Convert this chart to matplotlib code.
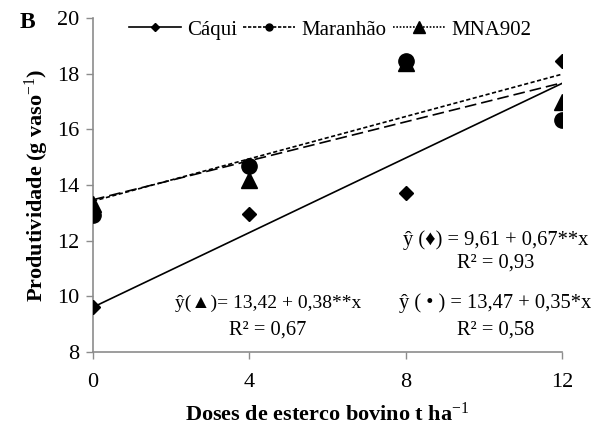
import matplotlib
matplotlib.use("Agg")
import matplotlib.pyplot as plt
from matplotlib.lines import Line2D
import numpy as np

plt.rcParams['font.family'] = ['Liberation Serif', 'DejaVu Sans']
plt.rcParams['mathtext.fontset'] = 'custom'
plt.rcParams['mathtext.rm'] = 'Liberation Serif'
plt.rcParams['mathtext.bf'] = 'Liberation Serif:bold'
plt.rcParams['mathtext.it'] = 'Liberation Serif:italic'

doses = [0, 4, 8, 12]
caqui = [9.62, 12.95, 13.7, 18.45]
maranhao = [12.93, 14.68, 18.45, 16.32]
mna902 = [13.3, 14.18, 18.4, 16.97]

# regression coefficients (intercept, slope)
fit_caqui = (9.61, 0.67)
fit_maranhao = (13.47, 0.35)
fit_mna902 = (13.42, 0.38)

xticks = [0, 4, 8, 12]
yticks = [8, 10, 12, 14, 16, 18, 20]

fig = plt.figure(figsize=(5.96, 4.28), dpi=100)
ax = fig.add_axes([93 / 596, 1 - 352 / 428, 469 / 596, 334 / 428])

xl = np.array([min(doses), max(doses)])
ax.plot(xl, fit_caqui[0] + fit_caqui[1] * xl, color='black', lw=1.2, ls='-')
ax.plot(xl, fit_maranhao[0] + fit_maranhao[1] * xl, color='black', lw=1.2, ls=(0, (7, 3)))
ax.plot(xl, fit_mna902[0] + fit_mna902[1] * xl, color='black', lw=1.2, ls=(0, (2.5, 1.5)))

ax.plot(doses, mna902, ls='none', marker='^', ms=11, color='black', zorder=3)
ax.plot(doses, maranhao, ls='none', marker='o', ms=11, color='black', zorder=4)
ax.plot(doses, caqui, ls='none', marker='D', ms=7.5, color='black', zorder=5)

ax.set_xlim(0, 12)
ax.set_ylim(8, 20)
ax.set_xticks(xticks)
ax.set_yticks(yticks)
ax.tick_params(axis='both', direction='out', length=5, width=1, color='#8c8c8c',
               labelsize=16)
ax.tick_params(axis='x', pad=10)
ax.tick_params(axis='y', pad=5)
for s in ['top', 'right']:
    ax.spines[s].set_visible(False)
for s in ['left', 'bottom']:
    ax.spines[s].set_color('#8c8c8c')
    ax.spines[s].set_linewidth(1.2)
ax.spines['left'].set_zorder(0)

ax.set_xlabel('Doses de esterco bovino t ha$^{-1}$', fontsize=16, fontweight='bold', labelpad=8)
ax.set_ylabel('Produtividade (g vaso$^{-1}$)', fontsize=16, fontweight='bold', labelpad=4)

handles = [
    Line2D([], [], color='black', lw=1.2, ls='-', marker='D', ms=4.5),
    Line2D([], [], color='black', lw=1.2, ls=(0, (2, 1)), marker='o', ms=5),
    Line2D([], [], color='black', lw=1.2, ls=(0, (1, 1)), marker='^', ms=9),
]
ax.legend(handles, ['Cáqui', 'Maranhão', 'MNA902'], ncol=3, frameon=False,
          loc='upper center', bbox_to_anchor=(0.505, 1.05), fontsize=15,
          handlelength=2.5, handletextpad=0.3, columnspacing=0.3)

fs = 14.8
ax.text(10.3, 12.02, 'ŷ (♦) = 9,61 + 0,67**x', ha='center', va='center', fontsize=fs)
ax.text(10.3, 11.2, 'R² = 0,93', ha='center', va='center', fontsize=fs)
ax.text(10.3, 9.76, 'ŷ ( • ) = 13,47 + 0,35*x', ha='center', va='center', fontsize=fs)
ax.text(10.3, 8.79, 'R² = 0,58', ha='center', va='center', fontsize=fs)
ax.text(4.48, 9.76, 'ŷ(▲)= 13,42 + 0,38**x', ha='center', va='center', fontsize=14)
ax.text(4.48, 8.79, 'R² = 0,67', ha='center', va='center', fontsize=fs)

fig.text(20 / 596, 1 - 22 / 428, 'B', fontsize=17, fontweight='bold', va='center', ha='left')

fig.savefig('out.png', dpi=100)
